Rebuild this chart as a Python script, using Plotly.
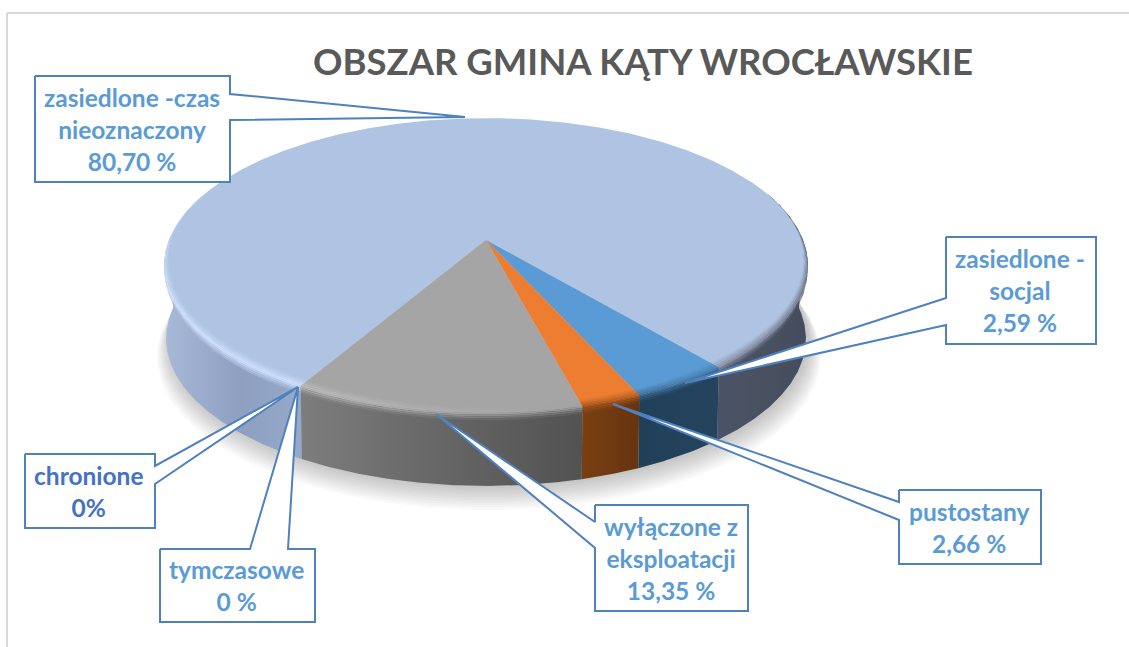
import numpy as np
import plotly.graph_objects as go

title = "OBSZAR GMINA KĄTY WROCŁAWSKIE"
# slices in clockwise drawing order, starting at the first-slice angle
categories = ["zasiedlone -czas nieoznaczony", "zasiedlone - socjal", "pustostany",
              "wyłączone z eksploatacji", "chronione", "tymczasowe"]
values = [80.75, 4.30, 2.60, 12.35, 0.0, 0.0]
# percentages as printed in the callouts
label_lines = ["zasiedlone -czas<br>nieoznaczony<br>80,70 %", "zasiedlone -<br>socjal<br>2,59 %",
               "pustostany<br>2,66 %", "wyłączone z<br>eksploatacji<br>13,35 %", "chronione<br>0%",
               "tymczasowe<br>0 %"]
label_colors = ["#5B9BD5", "#5B9BD5", "#5B9BD5", "#5B9BD5", "#4472C4", "#5B9BD5"]

top_colors = ["#AFC3E2", "#5B9BD5", "#ED7D31", "#A5A5A5", "#A5A5A5", "#A5A5A5"]

# Pie geometry (pixels of the page)
FIRST_ANGLE = 209.8
CX, CY, RX, RY, K, DEPTH = 486.0, 240.0, 317.0, 143.0, 0.173, 73.0

# callout boxes: left, top, right, bottom
boxes = [(35, 76, 230, 182), (946, 237, 1096, 344), (899, 490, 1041, 564),
         (595, 505, 748, 611), (25, 454, 155, 528), (160, 549, 315, 622)]
# wedge: side of the box, two base positions along that side, tip
wedges = [("r", 94, 120, (465, 117)), ("l", 298, 325, (685, 383)), ("l", 502, 520, (613, 404)),
          ("l", 522, 548, (436, 414)), ("r", 466, 484, (298, 387)), ("t", 250, 288, (298, 387))]


def proj(theta_deg, r=1.0, z=0.0):
    t = np.radians(np.asarray(theta_deg, dtype=float))
    u, v = r * np.sin(t), r * np.cos(t)
    w = 1 + K * v
    return CX + RX * u / w * (1 - 0.006 * z), CY - RY * v / w + DEPTH * z


def arc(a, b, n=None):
    n = n or max(2, int(abs(b - a) * 2) + 2)
    return np.linspace(a, b, n)


def mix(c1, c2, f):
    a = [int(c1[i:i + 2], 16) for i in (1, 3, 5)]
    b = [int(c2[i:i + 2], 16) for i in (1, 3, 5)]
    return "#" + "".join(f"{round(p + (q - p) * f):02X}" for p, q in zip(a, b))


fig = go.Figure()


def poly(x, y, color=None, gradient=None, line=None):
    kw = dict(x=list(x), y=list(y), mode="lines", fill="toself", hoverinfo="skip", showlegend=False)
    kw["line"] = line or dict(width=0, color="rgba(0,0,0,0)")
    if gradient:
        kw["fillgradient"] = dict(type="horizontal", colorscale=gradient)
    else:
        kw["fillcolor"] = color
    fig.add_trace(go.Scatter(**kw))


# ---------- slice angles from the values
total = sum(values)
spans = [v / total * 360 for v in values]
starts = FIRST_ANGLE + np.concatenate([[0], np.cumsum(spans)[:-1]])
ends = starts + np.array(spans)

# ---------- soft drop shadow
for i in range(10):
    th = arc(0, 360, 240)
    x, y = proj(th, 1.0 + 0.004 * i, 1.0)
    poly(x + 3, y + 2 + 1.6 * i, "rgba(60,60,60,0.03)")


# ---------- walls
def wall(a, b, grad):
    th = arc(a, b)
    xt, yt = proj(th, 1, 0)
    xb, yb = proj(th, 1, 1)
    poly(np.r_[xt, xb[::-1], xt[0]], np.r_[yt, yb[::-1], yt[0]], gradient=grad)


big_start, big_end = starts[0], ends[0] - 360
wall(big_start, 272, [[0, "#A9B9D8"], [0.55, "#8E9FC0"], [1, "#96A9CA"]])
wall(88, big_end, [[0, "#4A5366"], [0.6, "#49505F"], [1, "#434C5E"]])
wall(starts[1] - 360, ends[1] - 360, [[0, "#20405A"], [1, "#25435D"]])
wall(starts[2] - 360, ends[2] - 360, [[0, "#7A3F12"], [1, "#663410"]])
wall(starts[3] - 360, ends[3] - 360, [[0, "#7D7D7D"], [0.5, "#666666"], [1, "#525252"]])

# ---------- top faces
for i in range(4):
    th = arc(starts[i], ends[i])
    x, y = proj(th)
    poly(np.r_[CX, x, CX], np.r_[CY, y, CY], top_colors[i])


# ---------- soft bevel: strips running from the top colour through the edge colour to the wall colour
def bevel(a, b, top, edge_l, edge_r, wall_l, wall_r, n=8, w=0.032, zmax=0.10):
    th = arc(a, b)
    front = np.clip(-np.cos(np.radians(th)) + 0.25, 0, 1.0)

    def ring(s):
        if s <= 0:
            return proj(th, 1 + w * s * front, 0)
        return proj(th, 1.0, zmax * s * front)

    def col(s, edge, wl):
        return mix(top, edge, 1 + s) if s <= 0 else mix(edge, wl, s)

    levels = np.linspace(-1, 1, n + 1)
    for s0, s1 in zip(levels[:-1], levels[1:]):
        xa, ya = ring(s0)
        xb, yb = ring(s1)
        sm = (s0 + s1) / 2
        poly(np.r_[xa, xb[::-1], xa[0]], np.r_[ya, yb[::-1], ya[0]],
             gradient=[[0, col(sm, edge_l, wall_l)], [1, col(sm, edge_r, wall_r)]])


bevel(big_start, 290, "#AFC3E2", "#CFE2FF", "#CFE2FF", "#A9B9D8", "#96A9CA")
bevel(70, big_end, "#AFC3E2", "#8A93A8", "#6A7286", "#4A5366", "#434C5E")
bevel(starts[1] - 360, ends[1] - 360, "#5B9BD5", "#3F6F99", "#4A81B2", "#20405A", "#25435D")
bevel(starts[2] - 360, ends[2] - 360, "#ED7D31", "#A9561E", "#B45E22", "#7A3F12", "#663410")
bevel(starts[3] - 360, ends[3] - 360, "#A5A5A5", "#BDBDBD", "#A0A0A0", "#7D7D7D", "#525252")

# ---------- callouts
for (l, t, r, b), (side, p, q, tip), txt, col in zip(boxes, wedges, label_lines, label_colors):
    if side == "r":
        pts = [(l, t), (r, t), (r, p), tip, (r, q), (r, b), (l, b)]
    elif side == "l":
        pts = [(l, t), (r, t), (r, b), (l, b), (l, q), tip, (l, p)]
    else:
        pts = [(l, t), (p, t), tip, (q, t), (r, t), (r, b), (l, b)]
    pts.append(pts[0])
    poly([a for a, _ in pts], [c for _, c in pts], "#FFFFFF",
         line=dict(width=2, color="#4F81BD"))
    fig.add_annotation(x=(l + r) / 2 - 1, y=(t + b) / 2, text=f"<b>{txt}</b>", showarrow=False,
                       xanchor="center", yanchor="middle", align="center",
                       font=dict(family="Lato", size=24.5, color=col))

fig.add_annotation(x=643, y=61, text=f"<b>{title}</b>", showarrow=False, xanchor="center",
                   yanchor="middle", font=dict(family="Lato", size=36.5, color="#595959"))

fig.update_layout(
    width=1129, height=647, margin=dict(l=0, r=0, t=0, b=0),
    paper_bgcolor="white", plot_bgcolor="white", showlegend=False,
    xaxis=dict(range=[0, 1129], visible=False, fixedrange=True),
    yaxis=dict(range=[647, 0], visible=False, fixedrange=True),
    shapes=[
        dict(type="line", x0=7, x1=7, y0=13, y1=647, line=dict(color="#D9D9D9", width=2), layer="below"),
        dict(type="line", x0=7, x1=1129, y0=13, y1=13, line=dict(color="#D9D9D9", width=2), layer="below"),
    ],
)
fig.write_html("out.html", config=dict(displayModeBar=False),
               post_script="document.body.style.margin='0';document.body.style.overflow='hidden';")
